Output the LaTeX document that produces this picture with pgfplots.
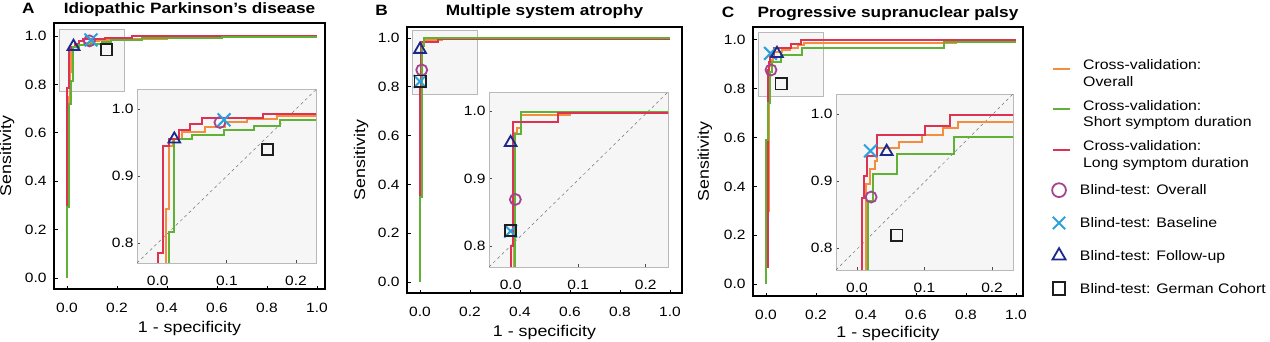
\documentclass[border=0pt]{standalone}
\usepackage{fontspec}
\setmainfont{Liberation Sans}[FakeStretch=1.15]
\usepackage{pgfplots}
\usepackage{pgfplotstable}
\pgfplotsset{compat=1.18}

\definecolor{cvO}{RGB}{242,142,62}
\definecolor{cvG}{RGB}{96,178,54}
\definecolor{cvR}{RGB}{222,50,82}
\definecolor{btO}{RGB}{164,66,142}
\definecolor{btX}{RGB}{42,162,222}
\definecolor{btT}{RGB}{26,42,140}
\definecolor{btS}{RGB}{30,30,30}
\definecolor{insetbg}{RGB}{246,246,246}
\definecolor{insetfr}{RGB}{185,185,185}

% ---------------- Panel A data ----------------
\pgfplotstableread{
x y
0 0
0 0.30
0.008 0.30
0.008 0.75
0.012 0.75
0.012 0.85
0.017 0.85
0.017 0.945
0.022 0.945
0.022 0.955
0.035 0.955
0.035 0.965
0.069 0.965
0.069 0.973
0.098 0.973
0.098 0.980
0.129 0.980
0.129 0.985
0.172 0.985
0.172 0.989
0.40 0.989
0.40 0.996
1 0.996
}\Aor
\pgfplotstableread{
x y
0 0
0 0.295
0.008 0.295
0.008 0.72
0.016 0.72
0.016 0.816
0.023 0.816
0.023 0.955
0.049 0.955
0.049 0.962
0.096 0.962
0.096 0.968
0.139 0.968
0.139 0.975
0.177 0.975
0.177 0.984
0.30 0.984
0.30 0.993
0.62 0.993
0.62 0.998
1 0.998
}\Agr
\pgfplotstableread{
x y
0 0
0 0.785
0.008 0.785
0.008 0.945
0.016 0.945
0.016 0.955
0.031 0.955
0.031 0.969
0.047 0.969
0.047 0.978
0.064 0.978
0.064 0.986
0.152 0.986
0.152 0.9925
0.26 0.9925
0.26 0.999
1 0.999
}\Are

% ---------------- Panel B data ----------------
\pgfplotstableread{
x y
0 0
0 0.36
0.005 0.36
0.005 0.968
0.010 0.968
0.010 0.975
0.015 0.975
0.015 0.9935
0.088 0.9935
0.088 0.9985
1 0.9985
}\Bor
\pgfplotstableread{
x y
0 0
0 0.35
0.006 0.35
0.006 0.966
0.016 0.966
0.016 0.9985
1 0.9985
}\Bgr
\pgfplotstableread{
x y
0 0
0 0.80
0.0034 0.80
0.0034 0.983
0.070 0.983
0.070 0.9975
1 0.9975
}\Bre

% ---------------- Panel C data ----------------
\pgfplotstableread{
x y
0 0
0 0.30
0.013 0.30
0.013 0.895
0.020 0.895
0.020 0.918
0.027 0.918
0.027 0.930
0.030 0.930
0.030 0.949
0.062 0.949
0.062 0.958
0.097 0.958
0.097 0.968
0.128 0.968
0.128 0.979
0.150 0.979
0.150 0.988
0.76 0.988
0.76 0.993
1 0.993
}\Cor
\pgfplotstableread{
x y
0 0
0 0.59
0.008 0.59
0.008 0.74
0.017 0.74
0.017 0.870
0.024 0.870
0.024 0.911
0.060 0.911
0.060 0.940
0.144 0.940
0.144 0.966
0.71 0.966
0.71 0.993
1 0.993
}\Cgr
\pgfplotstableread{
x y
0 0
0 0.07
0.008 0.07
0.008 0.875
0.011 0.875
0.011 0.908
0.015 0.908
0.015 0.937
0.030 0.937
0.030 0.968
0.101 0.968
0.101 0.982
0.138 0.982
0.138 0.998
1 0.998
}\Cre

\tikzset{letter/.style={anchor=base, inner sep=0pt, font=\bfseries\fontsize{15}{18}\selectfont}}
\pgfplotsset{
  common/.style={scale only axis, anchor=south west, tick align=inside,
    xtick pos=bottom, ytick pos=left,
    /pgf/number format/assume math mode=true,
    xticklabel style={/pgf/number format/fixed,/pgf/number format/fixed zerofill,/pgf/number format/precision=1},
    yticklabel style={/pgf/number format/fixed,/pgf/number format/fixed zerofill,/pgf/number format/precision=1},
    tick label style={font=\fontsize{13.5}{16}\selectfont},
  },
  mainax/.style={common, axis line style={black, line width=1.2pt},
    major tick length=3.5pt, every tick/.style={black, line width=0.9pt},
    xtick={0,0.2,0.4,0.6,0.8,1}, ytick={0,0.2,0.4,0.6,0.8,1},
    xlabel={1 - specificity}, ylabel={Sensitivity},
    label style={font=\fontsize{15.5}{18}\selectfont},
    xlabel style={anchor=center}, ylabel style={anchor=center},
    title style={font=\bfseries\fontsize{15}{18}\selectfont, at={(0.5,1)}, anchor=base, inner sep=0pt},
    xticklabel style={yshift=-11pt}, yticklabel style={xshift=-4pt}},
  insetax/.style={common, axis background/.style={fill=insetbg},
    axis line style={insetfr, line width=0.8pt},
    major tick length=3pt, every tick/.style={black!70, line width=0.8pt},
    xtick={0,0.1,0.2}, ytick={0.8,0.9,1.0}, xticklabel style={yshift=-9.5pt}},
  roc/.style={line width=2pt, forget plot},
  zoombox/.style={forget plot, draw=insetfr, fill=insetbg, line width=0.6pt},
  diag/.style={forget plot, black!55, dashed, line width=0.5pt},
  mkO/.style={forget plot, only marks, mark=o, mark size=5.5pt, mark options={line width=1.8pt, draw=btO}},
  mkX/.style={forget plot, only marks, mark=x, mark size=9pt, mark options={line width=2pt, draw=btX}},
  mkT/.style={forget plot, only marks, mark=triangle, mark size=6.8pt, mark options={line width=1.8pt, draw=btT}},
  mkS/.style={forget plot, only marks, mark=square, mark size=5.6pt, mark options={line width=1.8pt, draw=btS}},
}

\begin{document}
\begin{tikzpicture}
\useasboundingbox (0,0) rectangle (1270pt,341pt);

% ================= Panel A =================
\begin{axis}[mainax, at={(54pt,52pt)}, width=271pt, height=266pt,
  xmin=-0.052, xmax=1.032, ymin=-0.045, ymax=1.054,
  title={Idiopathic Parkinson’s disease}, title style={yshift=3.4pt},
  xlabel style={at={(axis description cs:0.5,-0.147)}},
  ylabel style={at={(axis description cs:-0.173,0.5)}}]
\addplot[zoombox] coordinates {(-0.03,0.77) (0.23,0.77) (0.23,1.03) (-0.03,1.03)} -- cycle;
\addplot[roc, cvO] table {\Aor};
\addplot[roc, cvR] table {\Are};
\addplot[roc, cvG] table {\Agr};
\addplot[mkT] coordinates {(0.026,0.957)};
\addplot[mkO] coordinates {(0.090,0.980)};
\addplot[mkX] coordinates {(0.096,0.984)};
\addplot[mkS] coordinates {(0.159,0.943)};
\end{axis}
\begin{axis}[insetax, at={(137pt,78pt)}, width=179pt, height=174pt,
  xmin=-0.030, xmax=0.229, ymin=0.770, ymax=1.030]
\addplot[diag] coordinates {(-0.03,0.77) (0.23,1.03)};
\addplot[roc, cvO] table {\Aor};
\addplot[roc, cvG] table {\Agr};
\addplot[roc, cvR] table {\Are};
\addplot[mkT] coordinates {(0.024,0.955)};
\addplot[mkO] coordinates {(0.090,0.980)};
\addplot[mkX] coordinates {(0.096,0.984)};
\addplot[mkS] coordinates {(0.159,0.940)};
\end{axis}

% ================= Panel B =================
\begin{axis}[mainax, at={(407pt,48pt)}, width=275pt, height=266pt,
  xmin=-0.052, xmax=1.048, ymin=-0.045, ymax=1.045,
  title={Multiple system atrophy}, title style={yshift=5.2pt},
  xlabel style={at={(axis description cs:0.5,-0.147)}},
  ylabel style={at={(axis description cs:-0.167,0.5)}}]
\addplot[zoombox] coordinates {(-0.03,0.77) (0.23,0.77) (0.23,1.03) (-0.03,1.03)} -- cycle;
\addplot[roc, cvO] table {\Bor};
\addplot[roc, cvR] table {\Bre};
\addplot[roc, cvG] table {\Bgr};
\addplot[mkT] coordinates {(0.0,0.953)};
\addplot[mkO] coordinates {(0.007,0.869)};
\addplot[mkX] coordinates {(0.0,0.822)};
\addplot[mkS] coordinates {(0.0,0.823)};
\end{axis}
\begin{axis}[insetax, at={(489pt,74pt)}, width=179pt, height=175pt,
  xmin=-0.032, xmax=0.233, ymin=0.769, ymax=1.028]
\addplot[diag] coordinates {(-0.032,0.769) (0.233,1.028)};
\addplot[roc, cvO] table {\Bor};
\addplot[roc, cvG] table {\Bgr};
\addplot[roc, cvR] table {\Bre};
\addplot[mkT] coordinates {(0.0,0.953)};
\addplot[mkO] coordinates {(0.007,0.869)};
\addplot[mkX] coordinates {(0.0,0.822)};
\addplot[mkS] coordinates {(0.0,0.823)};
\end{axis}

% ================= Panel C =================
\begin{axis}[mainax, at={(753pt,45pt)}, width=270pt, height=269pt,
  xmin=-0.052, xmax=1.028, ymin=-0.049, ymax=1.053,
  title={Progressive supranuclear palsy}, title style={yshift=4pt},
  xlabel style={at={(axis description cs:0.5,-0.138)}},
  ylabel style={at={(axis description cs:-0.178,0.5)}},
  legend cell align=left,
  legend style={at={(axis description cs:1.107,0.889)}, anchor=north west,
    draw=none, fill=none, inner sep=0pt, row sep=17pt, column sep=11pt,
    font=\fontsize{13.8}{16.5}\selectfont, nodes={inner sep=1pt}}]
\addplot[zoombox] coordinates {(-0.03,0.77) (0.23,0.77) (0.23,1.03) (-0.03,1.03)} -- cycle;
\addplot[roc, cvO] table {\Cor};
\addplot[roc, cvR] table {\Cre};
\addplot[roc, cvG] table {\Cgr};
\addplot[mkX] coordinates {(0.018,0.945)};
\addplot[mkT] coordinates {(0.044,0.944)};
\addplot[mkO] coordinates {(0.020,0.877)};
\addplot[mkS] coordinates {(0.060,0.820)};
\addlegendimage{cvO, line width=2pt}
\addlegendentry{\begin{tabular}{@{}l@{}}Cross-validation:\\Overall\end{tabular}}
\addlegendimage{cvG, line width=2pt}
\addlegendentry{\begin{tabular}{@{}l@{}}Cross-validation:\\Short symptom duration\end{tabular}}
\addlegendimage{cvR, line width=2pt}
\addlegendentry{\begin{tabular}{@{}l@{}}Cross-validation:\\Long symptom duration\end{tabular}}
\end{axis}
\begin{axis}[insetax, at={(836pt,71pt)}, width=177pt, height=176pt,
  xmin=-0.031, xmax=0.231, ymin=0.767, ymax=1.030,
  legend cell align=left,
  legend style={at={(axis description cs:1.220,0.503)}, anchor=north west,
    draw=none, fill=none, inner sep=0pt, row sep=15.8pt, column sep=13pt,
    font=\fontsize{13.8}{16.5}\selectfont, nodes={inner sep=1pt, text height=12pt, text depth=3pt}}]
\addplot[diag] coordinates {(-0.031,0.767) (0.231,1.030)};
\addplot[roc, cvO] table {\Cor};
\addplot[roc, cvG] table {\Cgr};
\addplot[roc, cvR] table {\Cre};
\addplot[mkX] coordinates {(0.020,0.945)};
\addplot[mkT] coordinates {(0.044,0.944)};
\addplot[mkO] coordinates {(0.021,0.876)};
\addplot[mkS] coordinates {(0.059,0.819)};
\addlegendimage{only marks, mark=o, mark size=6.9pt, mark options={line width=1.8pt, draw=btO}}
\addlegendentry{Blind-test: Overall}
\addlegendimage{only marks, mark=x, mark size=8.7pt, mark options={line width=2pt, draw=btX}}
\addlegendentry{Blind-test: Baseline}
\addlegendimage{only marks, mark=triangle, mark size=7.6pt, mark options={line width=1.8pt, draw=btT}}
\addlegendentry{Blind-test: Follow-up}
\addlegendimage{only marks, mark=square, mark size=6.2pt, mark options={line width=1.8pt, draw=btS}}
\addlegendentry{Blind-test: German Cohort}
\end{axis}

% panel letters
\node[letter] at (28.3pt,327.7pt) {A};
\node[letter] at (381.7pt,325.5pt) {B};
\node[letter] at (728pt,323.7pt) {C};
\end{tikzpicture}
\end{document}
